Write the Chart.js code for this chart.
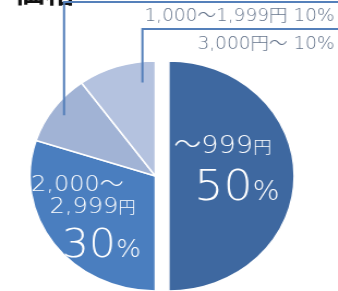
<!DOCTYPE html>
<html lang="ja">
<head>
<meta charset="UTF-8">
<script src="https://cdn.jsdelivr.net/npm/chart.js"></script>
<style>
  html, body { margin: 0; padding: 0; background: #fff; }
  .wrap { width: 338px; height: 291px; overflow: hidden; position: relative; }
  /* the original pie is a little wider than tall */
  #priceChart { position: absolute; left: 0; top: 0; transform-origin: 0 0; transform: scaleX(1.09); }
</style>
</head>
<body>
<div class="wrap"><canvas id="priceChart" width="310" height="291"></canvas></div>
<script>
// data
var categories = ['～999円', '2,000～2,999円', '1,000～1,999円', '3,000円～'];
var shares = [50, 30, 10, 10];
var sliceColors = ['#3e68a0', '#4a7ebf', '#a1b3d5', '#b4c2df'];
var chartTitle = '価格';

// text inside the big slices: runs of [text, font size]
var insideLabels = {
  0: [
    { dx: -8, dy: -23, runs: [['～999', 25], ['円', 17]] },
    { dx: 5, dy: 24, runs: [['50', 42], ['%', 26]] }
  ],
  1: [
    { dx: -25, dy: -19, runs: [['2,000～', 22]] },
    { dx: -11, dy: 3, runs: [['2,999', 22], ['円', 16]] },
    { dx: -3, dy: 47, runs: [['30', 39], ['%', 24]] }
  ]
};

// leader lines for the two small slices
var leaders = [
  { slice: 2, angleFrac: 0.5, radiusFrac: 0.9, lineY: 2, textY: 21 },
  { slice: 3, angleFrac: 0.8, radiusFrac: 0.82, lineY: 29, textY: 49 }
];

var FONT = '"DejaVu Sans", "Noto Sans CJK JP", sans-serif';

function drawRuns(ctx, x, y, runs, color) {
  // centre the whole line on x
  var total = 0;
  runs.forEach(function (r) {
    ctx.font = '200 ' + r[1] + 'px ' + FONT;
    total += ctx.measureText(r[0]).width;
  });
  var cx = x - total / 2;
  ctx.fillStyle = color;
  ctx.textAlign = 'left';
  ctx.textBaseline = 'alphabetic';
  runs.forEach(function (r) {
    ctx.font = '200 ' + r[1] + 'px ' + FONT;
    ctx.fillText(r[0], cx, y);
    cx += ctx.measureText(r[0]).width;
  });
}

var pieExtras = {
  id: 'pieExtras',
  afterDatasetsUpdate: function (chart) {
    // pull the 50% slice out to the right (offset option would also grow it)
    var arc = chart.getDatasetMeta(0).data[0];
    arc.x += 12.4;
  },
  afterDraw: function (chart) {
    var ctx = chart.ctx;
    var meta = chart.getDatasetMeta(0);
    ctx.save();

    // title, mostly cut off at the top
    ctx.font = 'bold 28px "Noto Sans CJK JP", sans-serif';
    ctx.fillStyle = '#111';
    ctx.textAlign = 'left';
    ctx.textBaseline = 'alphabetic';
    ctx.fillText(chartTitle, 13, 3);

    Object.keys(insideLabels).forEach(function (i) {
      var p = meta.data[i].tooltipPosition();
      insideLabels[i].forEach(function (l) {
        drawRuns(ctx, p.x + l.dx, p.y + l.dy, l.runs, '#ffffff');
      });
    });

    leaders.forEach(function (ld) {
      var arc = meta.data[ld.slice];
      var a = arc.startAngle + (arc.endAngle - arc.startAngle) * ld.angleFrac;
      var r = arc.outerRadius * ld.radiusFrac;
      var px = arc.x + Math.cos(a) * r;
      var py = arc.y + Math.sin(a) * r;
      ctx.strokeStyle = '#5580ba';
      ctx.lineWidth = 2;
      ctx.beginPath();
      ctx.moveTo(px, py);
      ctx.lineTo(px, ld.lineY);
      ctx.lineTo(chart.width, ld.lineY);
      ctx.stroke();

      ctx.font = '200 17px ' + FONT;
      ctx.fillStyle = '#66758c';
      ctx.textAlign = 'right';
      ctx.fillText(categories[ld.slice] + ' ' + shares[ld.slice] + '%', 307, ld.textY);
    });
    ctx.restore();
  }
};

new Chart(document.getElementById('priceChart'), {
  type: 'pie',
  data: {
    labels: categories,
    datasets: [{
      data: shares,
      backgroundColor: sliceColors,
      borderColor: '#ffffff',
      borderWidth: 1.5
    }]
  },
  options: {
    responsive: false,
    animation: false,
    radius: 115,
    layout: { padding: { left: 0, right: 25, top: 61, bottom: 0 } },
    plugins: {
      legend: { display: false },
      tooltip: { enabled: false }
    }
  },
  plugins: [pieExtras]
});
</script>
</body>
</html>
